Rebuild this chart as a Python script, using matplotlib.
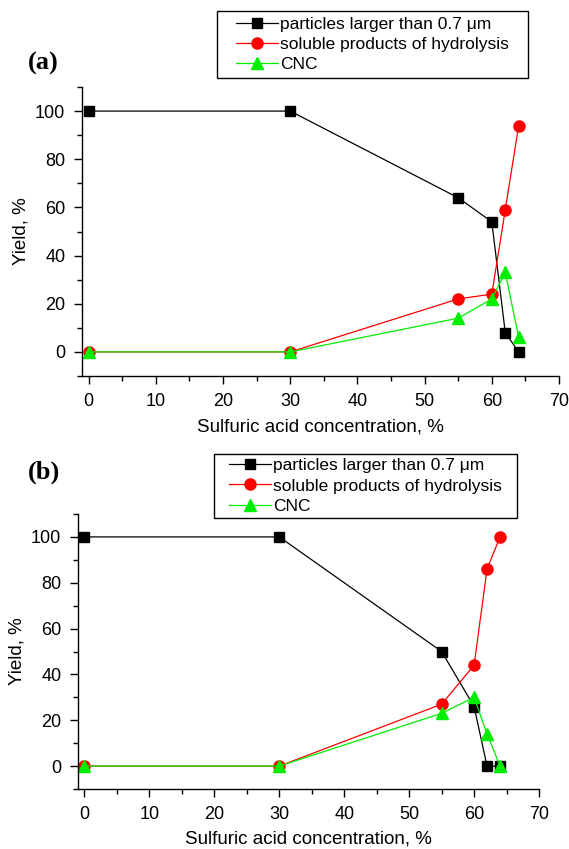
import matplotlib.pyplot as plt
from matplotlib.ticker import MultipleLocator
from matplotlib.patches import Rectangle

plt.rcParams['font.family'] = ['Liberation Sans', 'DejaVu Sans']

acid = [0, 30, 55, 60, 62, 64]

# panel (a)
particles_a = [100, 100, 64, 54, 8, 0]
soluble_a = [0, 0, 22, 24, 59, 94]
cnc_a = [0, 0, 14, 22, 33, 6]

# panel (b)
particles_b = [100, 100, 50, 26, 0, 0]
soluble_b = [0, 0, 27, 44, 86, 100]
cnc_b = [0, 0, 23, 30, 14, 0]

labels = ["particles larger than 0.7 \u03bcm",
          "soluble products of hydrolysis",
          "CNC"]

W, H = 569, 849
fig = plt.figure(figsize=(W / 100, H / 100), dpi=100)


def panel(rect, part, sol, cnc, tag, tag_xy, leg_box):
    l, t, r, b = rect
    ax = fig.add_axes([l / W, 1 - b / H, (r - l) / W, (b - t) / H])
    h1, = ax.plot(acid, part, color='black', lw=0.9, marker='s', ms=7)
    h2, = ax.plot(acid, sol, color='red', lw=0.9, marker='o', ms=8)
    h3, = ax.plot(acid, cnc, color='#00ee00', lw=0.9, marker='^', ms=8)
    ax.set_xlim(-1, 70)
    ax.set_ylim(-10, 110)
    ax.xaxis.set_major_locator(MultipleLocator(10))
    ax.xaxis.set_minor_locator(MultipleLocator(5))
    ax.yaxis.set_major_locator(MultipleLocator(20))
    ax.yaxis.set_minor_locator(MultipleLocator(10))
    ax.tick_params(which='major', direction='out', length=6, width=1,
                   labelsize=13, pad=6)
    ax.tick_params(which='minor', direction='out', length=3.5, width=1)
    for s in ['top', 'right']:
        ax.spines[s].set_visible(False)
    for s in ['left', 'bottom']:
        ax.spines[s].set_linewidth(1)
    ax.set_xlabel("Sulfuric acid concentration, %", fontsize=13.5, labelpad=6)
    ax.set_ylabel("Yield, %", fontsize=13.5, labelpad=4)

    # legend box drawn by hand, entries centred in it
    lx0, ly0, lx1, ly1 = leg_box
    fig.patches.append(Rectangle((lx0 / W, 1 - ly1 / H), (lx1 - lx0) / W,
                                 (ly1 - ly0) / H, transform=fig.transFigure,
                                 fill=False, edgecolor='black', lw=1))
    fig.legend([h1, h2, h3], labels, loc='center',
               bbox_to_anchor=((lx0 + lx1) / 2 / W, 1 - (ly0 + ly1) / 2 / H),
               fontsize=12.5, frameon=False,
               handlelength=2.4, handletextpad=0.15, borderpad=0.1,
               labelspacing=0.3, markerscale=1)
    fig.text(tag_xy[0] / W, 1 - tag_xy[1] / H, tag, fontsize=19, fontweight='bold',
             family='Liberation Serif', va='center', ha='left')
    return ax


panel((82, 87, 559, 376), particles_a, soluble_a, cnc_a, "(a)", (28, 63),
      (217, 11, 528, 78))
panel((78, 514, 539, 789), particles_b, soluble_b, cnc_b, "(b)", (28, 472),
      (214, 454, 517, 518))

plt.savefig("out.png", dpi=100)
